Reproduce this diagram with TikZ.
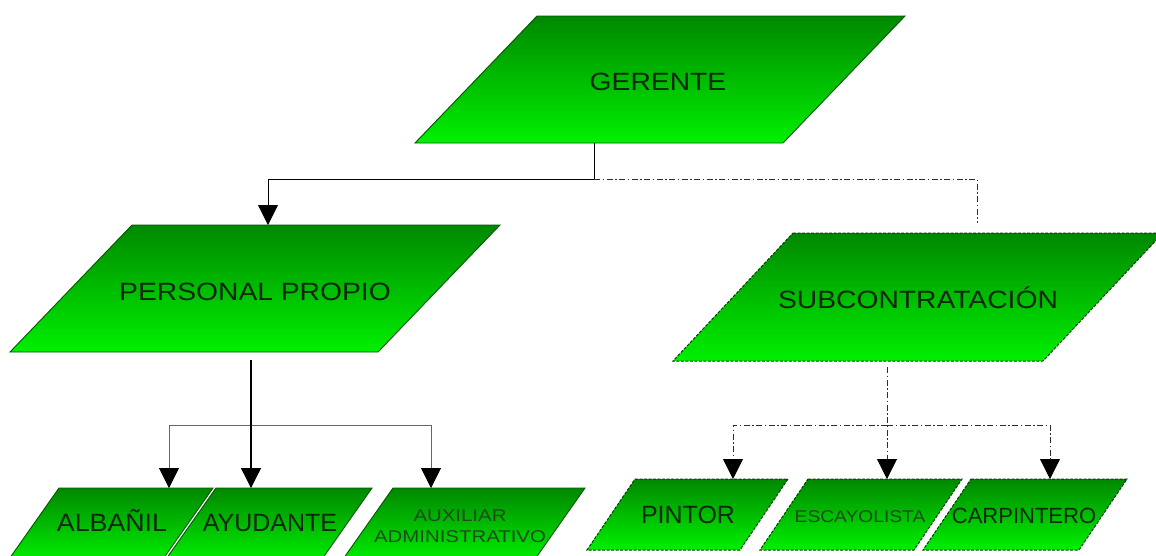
\documentclass[tikz,border=0pt]{standalone}
\usepackage{fontspec}
\setmainfont{Liberation Sans}
\newfontfamily\widefam[FakeStretch=1.13]{Liberation Sans}
\newfontfamily\midfam[FakeStretch=1.07]{Liberation Sans}
\newfontfamily\widerfam[FakeStretch=1.2]{Liberation Sans}
\usetikzlibrary{arrows.meta,calc}

\definecolor{gtop}{RGB}{0,136,0}
\definecolor{gbot}{RGB}{0,240,0}
\definecolor{gedge}{RGB}{0,85,0}
\definecolor{txt}{RGB}{12,40,12}
\definecolor{ltxt}{RGB}{30,74,30}
\definecolor{dd}{RGB}{45,45,45}

\tikzset{
  boxfill/.style={top color=gtop, bottom color=gbot},
  solidedge/.style={draw=gedge, line width=0.9pt},
  dashedge/.style={draw=black!75!green, line width=1pt, dash pattern=on 3pt off 1.5pt},
  lbl/.style={inner sep=0pt, text=txt, anchor=base},
  conn/.style={draw=black, line width=0.8pt},
  lconn/.style={draw=black!60, line width=0.8pt},
  dconn/.style={draw=dd, line width=0.8pt, dash pattern=on 6pt off 2.5pt on 1.5pt off 2.5pt},
  tipped/.style={-{Triangle[width=20pt,length=20pt,color=black]}},
}

% parallelogram: style, top-left x, top-right x, top y, bottom y, shear
\newcommand\pgram[6]{%
  \path[boxfill,#1] (#2,#4) -- (#3,#4) -- ({#3-#6},#5) -- ({#2-#6},#5) -- cycle;}

\begin{document}
\begin{tikzpicture}[x=1pt,y=-1pt]
\clip (0,0) rectangle (1156,555);
\fill[white] (0,0) rectangle (1156,555);

% boxes
\pgram{solidedge}{537}{905}{16}{143}{122}
\pgram{solidedge}{132}{500}{225}{352}{122}
\pgram{dashedge}{793}{1163}{233}{361}{120}
\pgram{solidedge}{59}{213}{488}{562}{52}
\pgram{solidedge}{216}{372}{488}{562}{52}
\pgram{solidedge}{393}{585}{488}{562}{52}
\pgram{dashedge}{635}{788}{479}{550}{48}
\pgram{dashedge}{808}{962}{479}{550}{48}
\pgram{dashedge}{971}{1127}{479}{550}{48}

% labels
\node[lbl, font=\widefam\fontsize{25}{30}\selectfont] (ger) at (658,90) {GERENTE};
\node[lbl, font=\widefam\fontsize{25}{30}\selectfont] (pp) at (255,300) {PERSONAL PROPIO};
\node[lbl, font=\widefam\fontsize{25}{30}\selectfont] (sub) at (918,308) {SUBCONTRATACIÓN};
\node[lbl, font=\midfam\fontsize{25}{30}\selectfont] (alb) at (112,531) {ALBAÑIL};
\node[lbl, font=\fontsize{25}{30}\selectfont] (ayu) at (270,531) {AYUDANTE};
\node[lbl, text=ltxt, align=center, font=\widerfam\fontsize{17}{21}\selectfont] (aux) at (460,542) {AUXILIAR\\ADMINISTRATIVO};
\node[lbl, font=\fontsize{25}{30}\selectfont] (pin) at (688,523) {PINTOR};
\node[lbl, text=ltxt, font=\widefam\fontsize{17}{21}\selectfont] (esc) at (860,522) {ESCAYOLISTA};
\node[lbl, font=\fontsize{22}{26}\selectfont] (car) at (1024,523) {CARPINTERO};

% connector points
\coordinate (gerS) at (594,143);
\coordinate (j1) at (594,179);
\coordinate (ppN) at (268,225);
\coordinate (subN) at (977,223);
\coordinate (ppS) at (251,360);
\coordinate (j2) at (251,425);
\coordinate (albN) at (169,488);
\coordinate (ayuN) at (251,488);
\coordinate (auxN) at (431,488);
\coordinate (subS) at (887,367);
\coordinate (j3) at (887,425);
\coordinate (pinN) at (733,479);
\coordinate (escN) at (887,479);
\coordinate (carN) at (1050,479);

% connectors
\draw[conn] (gerS) -- (j1);
\draw[conn,tipped] (j1) -| (ppN);
\draw[dconn] (j1) -| (subN);
\draw[lconn,tipped] (j2) -| (albN);
\draw[lconn,tipped] (j2) -| (auxN);
\draw[conn,line width=1.3pt,tipped] (ppS) -- (ayuN);
\draw[dconn,tipped] (subS) -- (escN);
\draw[dconn,tipped] (j3) -| (pinN);
\draw[dconn,tipped] (j3) -| (carN);
\end{tikzpicture}
\end{document}
